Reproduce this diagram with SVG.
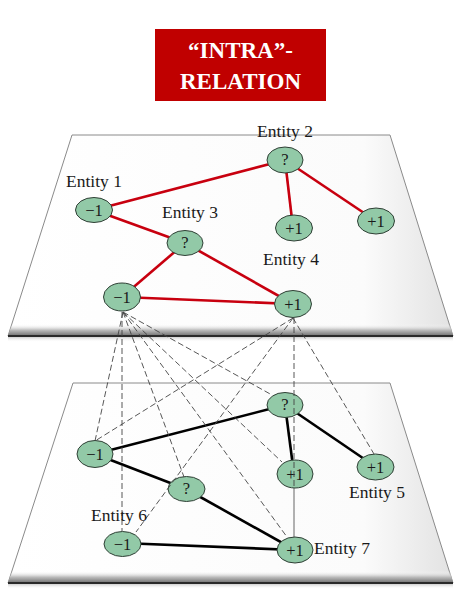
<svg xmlns="http://www.w3.org/2000/svg" width="463" height="599" viewBox="0 0 463 599">
<defs>
<linearGradient id="band" x1="0" y1="0" x2="0" y2="1">
<stop offset="0" stop-color="#ffffff" stop-opacity="0"/>
<stop offset="0.5" stop-color="#bdbdbd"/>
<stop offset="1" stop-color="#6e6e6e"/>
</linearGradient>
<linearGradient id="planefill" x1="0" y1="0" x2="1" y2="0">
<stop offset="0" stop-color="#ffffff"/>
<stop offset="0.8" stop-color="#fbfbfb"/>
<stop offset="1" stop-color="#e2e2e2"/>
</linearGradient>
<linearGradient id="below" x1="0" y1="0" x2="0" y2="1">
<stop offset="0" stop-color="#cfcfcf"/>
<stop offset="1" stop-color="#ffffff" stop-opacity="0"/>
</linearGradient>
</defs>
<style>
.plane{fill:url(#planefill);stroke:#8a8a8a;stroke-width:1}
.edge{stroke:#2a2a2a;stroke-width:2;fill:none}
.node ellipse{fill:#92c9a7;stroke:#2f3f35;stroke-width:1}
.node text{font-family:"Liberation Serif","DejaVu Serif",serif;font-size:16.5px;fill:#1a1a1a;text-anchor:middle}
.lbl{font-family:"Liberation Serif","DejaVu Serif",serif;font-size:17.5px;fill:#1a1a1a}
.red{stroke:#c8000f;stroke-width:2.6;fill:none}
.blk{stroke:#000;stroke-width:2.6;fill:none}
.dash{stroke:#444;stroke-width:0.9;stroke-dasharray:6 3;fill:none}
.thin{stroke:#666;stroke-width:1;fill:none}
.title{font-family:"Liberation Serif","DejaVu Serif",serif;font-weight:bold;font-size:23px;fill:#ffffff;text-anchor:middle}
</style>

<g id="title">
<rect x="155" y="29" width="171" height="72" fill="#c00000"/>
<text class="title" x="240.5" y="58">“INTRA”-</text>
<text class="title" x="240.5" y="89">RELATION</text>
</g>

<g id="plane-top">
<polygon class="plane" points="72,135 390,135 453,336 8,336"/>
<polygon points="12,324 450,324 453,336 8,336" fill="url(#band)"/>
<rect x="8" y="337" width="445" height="5" fill="url(#below)"/>
<line class="edge" x1="8" y1="336" x2="453" y2="336"/>
</g>

<g id="plane-bottom">
<polygon class="plane" points="73,383 390,383 453,583 8,583"/>
<polygon points="12,571 450,571 453,583 8,583" fill="url(#band)"/>
<rect x="8" y="584" width="445" height="5" fill="url(#below)"/>
<line class="edge" x1="8" y1="583" x2="453" y2="583"/>
</g>

<g id="connectors">
<line class="red" x1="94" y1="210" x2="285" y2="160"/>
<line class="red" x1="94" y1="210" x2="185" y2="243"/>
<line class="red" x1="285" y1="160" x2="293" y2="228"/>
<line class="red" x1="285" y1="160" x2="376" y2="221"/>
<line class="red" x1="185" y1="243" x2="122" y2="297"/>
<line class="red" x1="185" y1="243" x2="293" y2="304"/>
<line class="red" x1="122" y1="297" x2="293" y2="304"/>

<line class="blk" x1="95" y1="454" x2="285" y2="405"/>
<line class="blk" x1="95" y1="454" x2="186" y2="489"/>
<line class="blk" x1="285" y1="405" x2="294" y2="474"/>
<line class="blk" x1="285" y1="405" x2="376" y2="467"/>
<line class="blk" x1="186" y1="489" x2="295" y2="550"/>
<line class="blk" x1="122" y1="543" x2="295" y2="550"/>
<line class="thin" x1="294" y1="488" x2="294" y2="537"/>
</g>

<g id="n1" class="node"><ellipse cx="94" cy="210" rx="18.5" ry="12.5"/><text x="94" y="215.5">−1</text></g>
<g id="n2" class="node"><ellipse cx="285" cy="160" rx="18" ry="13"/><text x="285" y="165" font-size="14">?</text></g>
<g id="n3" class="node"><ellipse cx="294" cy="228" rx="18.5" ry="13"/><text x="294" y="233.5">+1</text></g>
<g id="n4" class="node"><ellipse cx="376" cy="221" rx="18.5" ry="13"/><text x="376" y="226.5">+1</text></g>
<g id="n5" class="node"><ellipse cx="185" cy="243" rx="18" ry="12.5"/><text x="185" y="248" font-size="14">?</text></g>
<g id="n6" class="node"><ellipse cx="122" cy="297" rx="18.5" ry="14"/><text x="122" y="302.5">−1</text></g>
<g id="n7" class="node"><ellipse cx="293" cy="304" rx="18.5" ry="13.5"/><text x="293" y="309.5">+1</text></g>

<g id="m1" class="node"><ellipse cx="285" cy="405" rx="18" ry="12.5"/><text x="285" y="410" font-size="14">?</text></g>
<g id="m2" class="node"><ellipse cx="95" cy="454" rx="18" ry="13.5"/><text x="95" y="459.5">−1</text></g>
<g id="m3" class="node"><ellipse cx="186.5" cy="489" rx="18.5" ry="12.5"/><text x="186.5" y="494" font-size="14">?</text></g>
<g id="m4" class="node"><ellipse cx="295" cy="474" rx="18" ry="14"/><text x="295" y="479.5">+1</text></g>
<g id="m5" class="node"><ellipse cx="375.5" cy="467" rx="18.5" ry="13"/><text x="375.5" y="472.5">+1</text></g>
<g id="m6" class="node"><ellipse cx="122.5" cy="544" rx="18.5" ry="12.5"/><text x="122.5" y="549.5">−1</text></g>
<g id="m7" class="node"><ellipse cx="295" cy="550" rx="18" ry="13"/><text x="295" y="555.5">+1</text></g>

<g id="connectors-dashed">
<line class="dash" x1="123" y1="312" x2="95" y2="441"/>
<line class="dash" x1="122" y1="312" x2="122" y2="531"/>
<line class="dash" x1="123" y1="312" x2="184" y2="477"/>
<line class="dash" x1="123" y1="312" x2="287" y2="537"/>
<line class="dash" x1="123" y1="312" x2="282" y2="462"/>
<line class="dash" x1="123" y1="312" x2="272" y2="395"/>
<line class="dash" x1="293" y1="318" x2="95" y2="441"/>
<line class="dash" x1="293" y1="318" x2="136" y2="532"/>
<line class="dash" x1="294" y1="318" x2="294" y2="488"/>
<line class="dash" x1="293" y1="318" x2="374" y2="454"/>
</g>

<g id="labels">
<text class="lbl" x="66" y="187">Entity 1</text>
<text class="lbl" x="257" y="137">Entity 2</text>
<text class="lbl" x="162" y="218">Entity 3</text>
<text class="lbl" x="263" y="265">Entity 4</text>
<text class="lbl" x="349" y="498">Entity 5</text>
<text class="lbl" x="91" y="521">Entity 6</text>
<text class="lbl" x="314" y="554">Entity 7</text>
</g>
</svg>
